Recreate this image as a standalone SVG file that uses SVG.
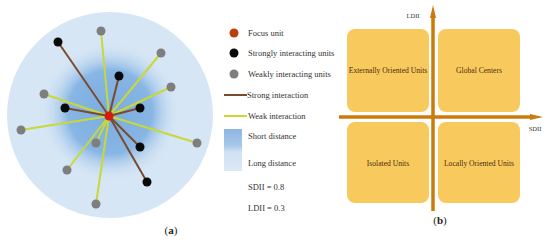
<svg xmlns="http://www.w3.org/2000/svg" width="550" height="240" viewBox="0 0 550 240">
<defs>
<radialGradient id="core" cx="110" cy="112" r="70" gradientUnits="userSpaceOnUse">
<stop offset="0" stop-color="#78ACE0"/>
<stop offset="0.6" stop-color="#88B6E4"/>
<stop offset="1" stop-color="#D4E4F4" stop-opacity="0"/>
</radialGradient>
<linearGradient id="dist" x1="0" y1="0" x2="0" y2="1">
<stop offset="0" stop-color="#8DB6E3"/>
<stop offset="0.4" stop-color="#A9C8EA"/>
<stop offset="0.55" stop-color="#D0E2F3"/>
<stop offset="1" stop-color="#DCE8F5"/>
</linearGradient>
<style>
.t{font-family:"Liberation Serif","Times New Roman",serif;font-size:8.5px;fill:#333}
.sm{font-family:"Liberation Serif","Times New Roman",serif;font-size:6.5px;fill:#333;text-anchor:middle}
.q{font-family:"Liberation Serif","Times New Roman",serif;font-size:7.6px;fill:#4A2E0E;text-anchor:middle}
.s{stroke:#7A4B2C;stroke-width:2}
.w{stroke:#C9D836;stroke-width:2}
.b{fill:#0A0A0A}
.g{fill:#7E7E7E}
.box{fill:#F8C95D}
.ax{stroke:#CC7A0A;stroke-width:3.5;fill:none}
.head{fill:#CC7A0A}
.lab{font-family:"Liberation Serif","Times New Roman",serif;font-size:11px;fill:#222;text-anchor:middle}
</style>
</defs>
<rect width="550" height="240" fill="#fff"/>
<g id="background">
<circle cx="110" cy="115" r="103" fill="#D6E6F5"/>
<circle cx="110" cy="112" r="70" fill="url(#core)"/>
</g>
<g id="connectors">
<line class="w" x1="109" y1="116" x2="101" y2="31"/>
<line class="w" x1="109" y1="116" x2="161" y2="53"/>
<line class="w" x1="109" y1="116" x2="171" y2="87"/>
<line class="w" x1="109" y1="116" x2="44" y2="94"/>
<line class="w" x1="109" y1="116" x2="21" y2="130"/>
<line class="w" x1="109" y1="116" x2="197" y2="143"/>
<line class="w" x1="109" y1="116" x2="96" y2="143"/>
<line class="w" x1="109" y1="116" x2="67" y2="170"/>
<line class="w" x1="109" y1="116" x2="96" y2="204"/>
<line class="s" x1="109" y1="116" x2="58" y2="42"/>
<line class="s" x1="109" y1="116" x2="119" y2="76"/>
<line class="s" x1="109" y1="116" x2="65" y2="108"/>
<line class="s" x1="109" y1="116" x2="140" y2="108"/>
<line class="s" x1="109" y1="116" x2="140" y2="147"/>
<line class="s" x1="109" y1="116" x2="147" y2="182"/>
</g>
<g id="strong-units">
<circle class="b" cx="58" cy="42" r="4.5"/>
<circle class="b" cx="119" cy="76" r="4.5"/>
<circle class="b" cx="65" cy="108" r="4.5"/>
<circle class="b" cx="140" cy="108" r="4.5"/>
<circle class="b" cx="140" cy="147" r="4.5"/>
<circle class="b" cx="147" cy="182" r="4.5"/>
</g>
<g id="weak-units">
<circle class="g" cx="101" cy="31" r="4.5"/>
<circle class="g" cx="161" cy="53" r="4.5"/>
<circle class="g" cx="171" cy="87" r="4.5"/>
<circle class="g" cx="44" cy="94" r="4.5"/>
<circle class="g" cx="21" cy="130" r="4.5"/>
<circle class="g" cx="197" cy="143" r="4.5"/>
<circle class="g" cx="96" cy="143" r="4.5"/>
<circle class="g" cx="67" cy="170" r="4.5"/>
<circle class="g" cx="96" cy="204" r="4.5"/>
</g>
<g id="focus-unit">
<circle cx="109" cy="116" r="4.5" fill="#D41B12"/>
</g>
<g id="legend">
<circle cx="234" cy="33" r="4.5" fill="#B8400F"/>
<text class="t" x="248" y="36">Focus unit</text>
<circle class="b" cx="234" cy="53" r="4.5"/>
<text class="t" x="248" y="56">Strongly interacting units</text>
<circle class="g" cx="234" cy="74" r="4.5"/>
<text class="t" x="248" y="77">Weakly interacting units</text>
<line class="s" x1="224" y1="95" x2="247" y2="95"/>
<text class="t" x="247" y="98">Strong interaction</text>
<line class="w" x1="224" y1="116" x2="247" y2="116"/>
<text class="t" x="248" y="119">Weak interaction</text>
<rect x="224" y="129" width="18" height="42" fill="url(#dist)"/>
<text class="t" x="248" y="139">Short distance</text>
<text class="t" x="248" y="166">Long distance</text>
<text class="t" x="248" y="190">SDII = 0.8</text>
<text class="t" x="248" y="211">LDII = 0.3</text>
</g>
<text class="lab" x="171" y="234">(<tspan font-weight="bold">a</tspan>)</text>
<g id="externally-oriented">
<rect class="box" x="347" y="29" width="82" height="83" rx="8"/>
<text class="q" x="388" y="73">Externally Oriented Units</text>
</g>
<g id="global-centers">
<rect class="box" x="438" y="29" width="82" height="83" rx="8"/>
<text class="q" x="479" y="73">Global Centers</text>
</g>
<g id="isolated">
<rect class="box" x="347" y="122" width="82" height="81" rx="8"/>
<text class="q" x="388" y="166">Isolated Units</text>
</g>
<g id="locally-oriented">
<rect class="box" x="438" y="122" width="82" height="81" rx="8"/>
<text class="q" x="479" y="166">Locally Oriented Units</text>
</g>
<g id="axes">
<line class="ax" x1="433" y1="211" x2="433" y2="16"/>
<polygon class="head" points="430,18 433,5 436,18"/>
<line class="ax" x1="339" y1="117" x2="532" y2="117"/>
<polygon class="head" points="530,114 543,117 530,120"/>
<text class="sm" x="413" y="18">LDII</text>
<text class="sm" x="535" y="131">SDII</text>
</g>
<text class="lab" x="440" y="224">(<tspan font-weight="bold">b</tspan>)</text>
</svg>
